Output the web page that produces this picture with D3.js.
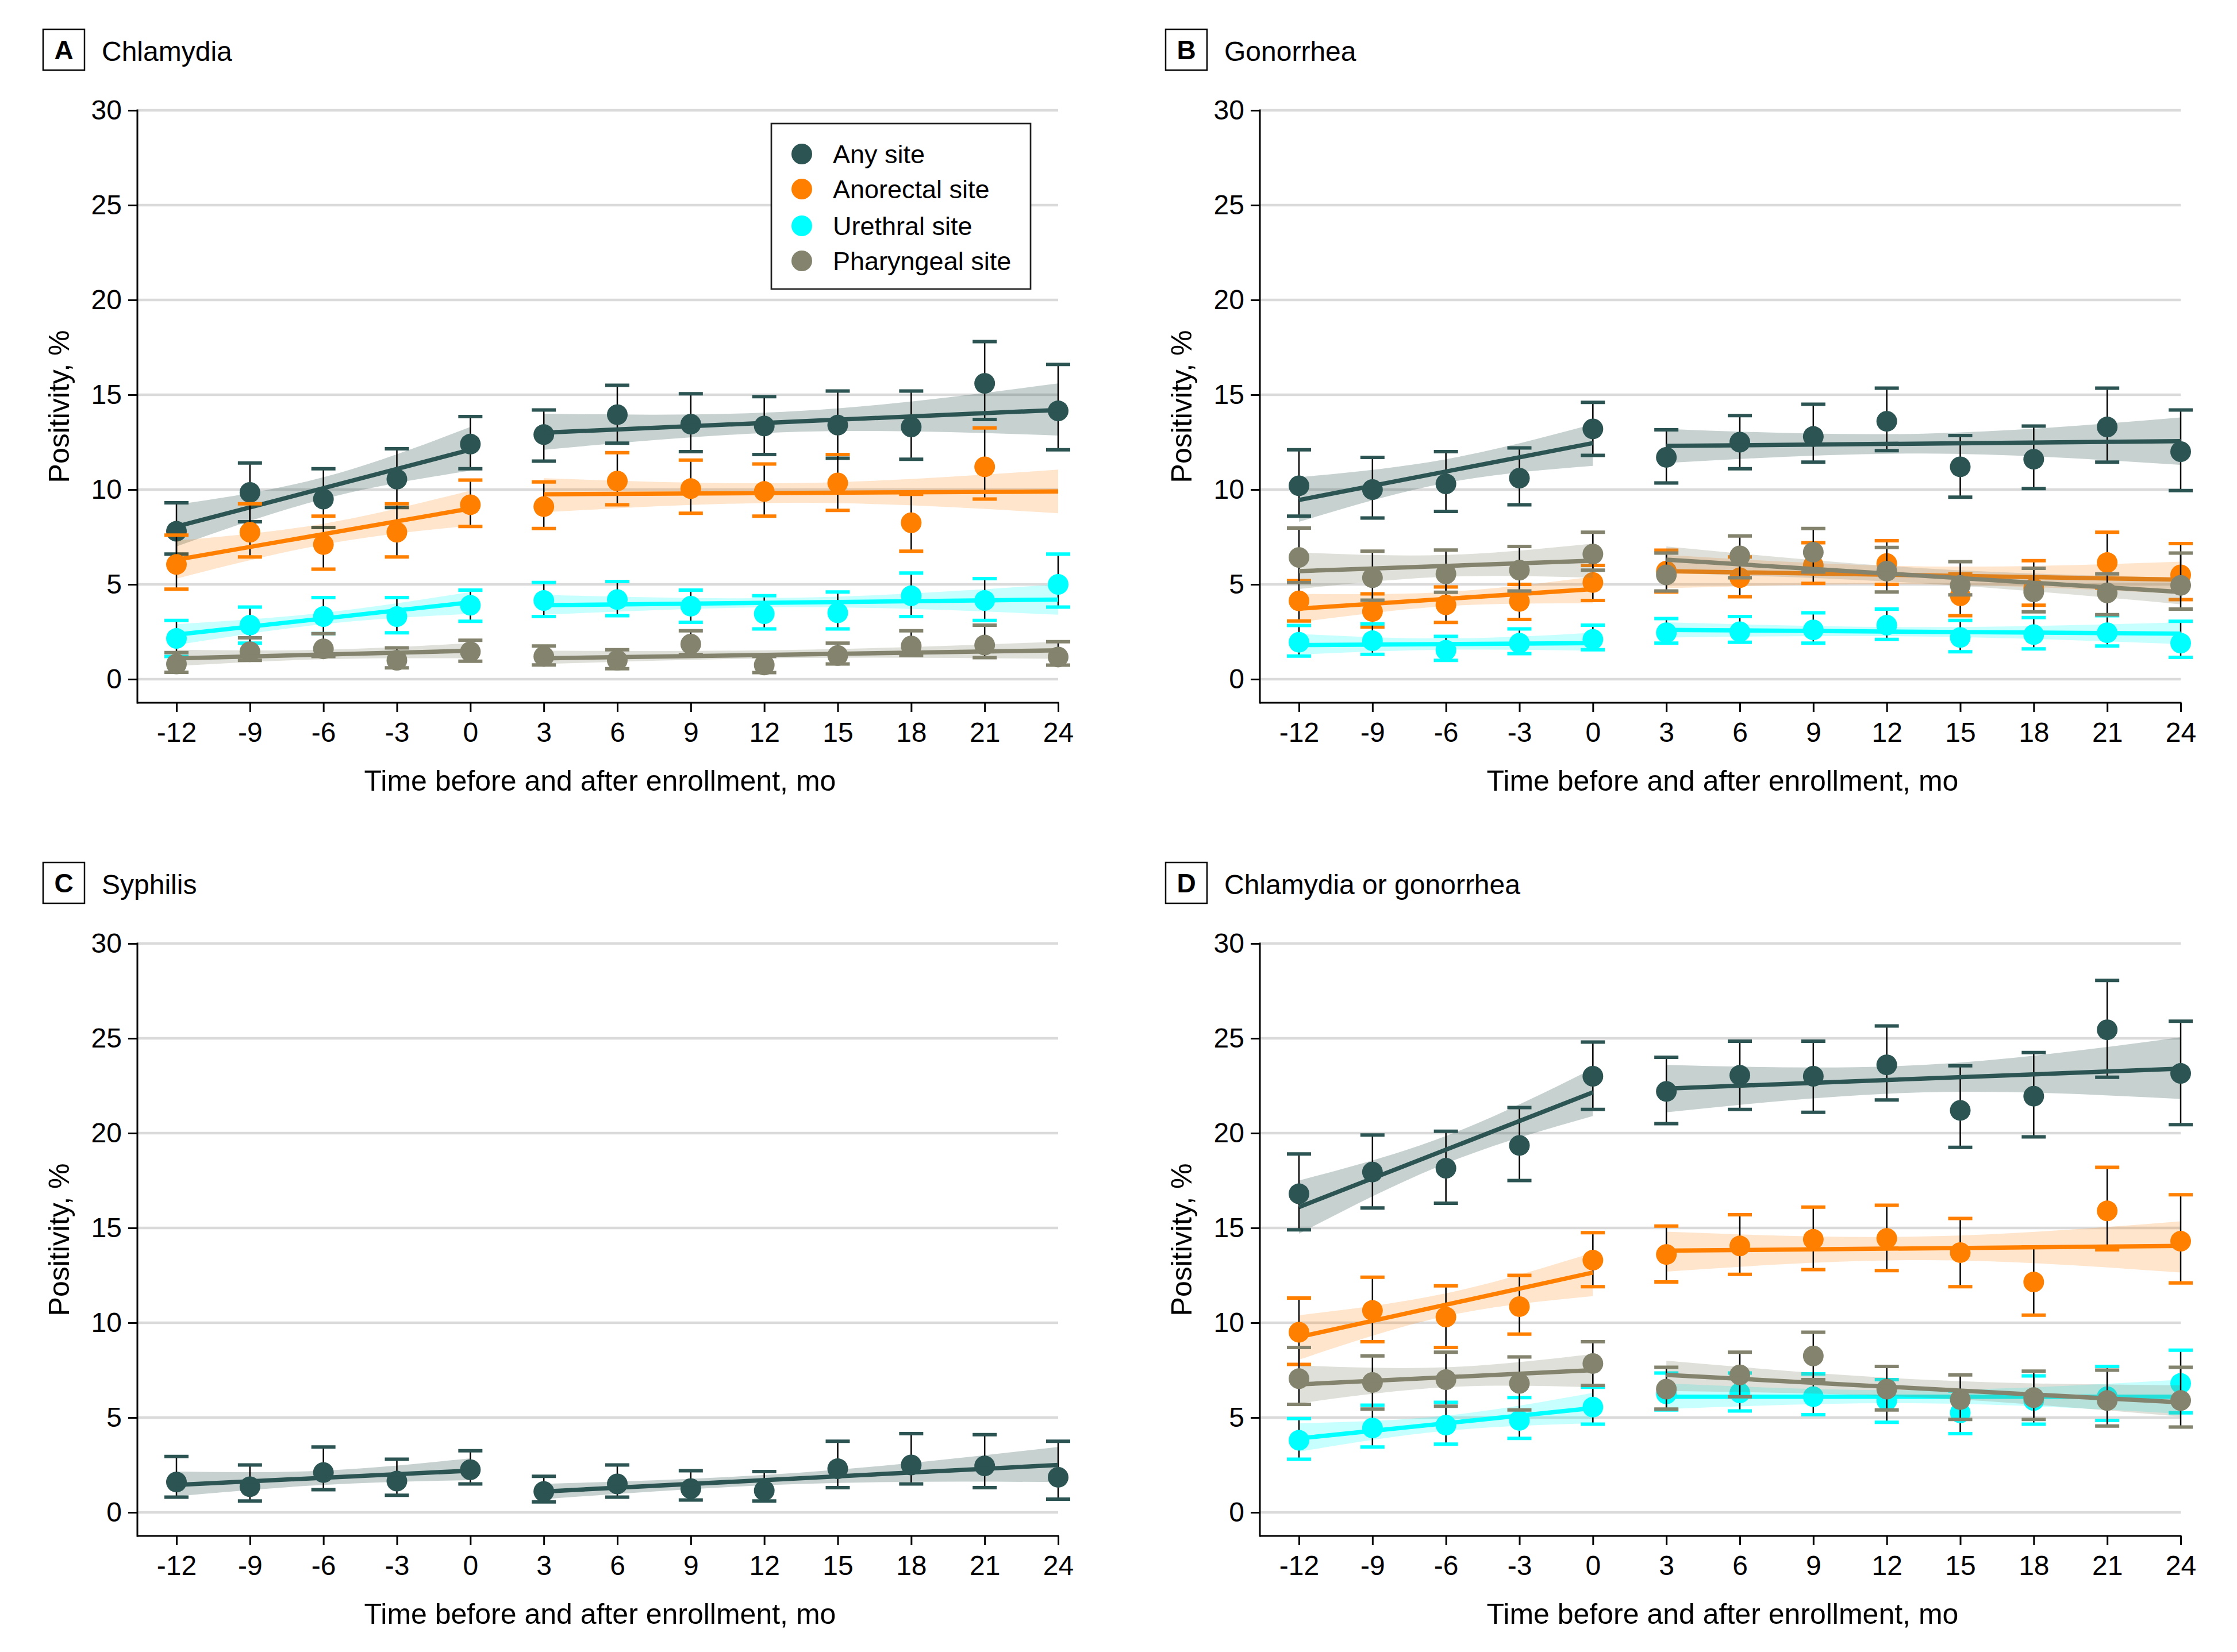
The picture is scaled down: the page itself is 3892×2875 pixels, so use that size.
<!DOCTYPE html>
<html><head><meta charset="utf-8">
<script src="https://cdn.jsdelivr.net/npm/d3@7"></script>
<style>body{margin:0;background:#fff} text{font-family:"Liberation Sans",Arial,sans-serif;}</style>
</head><body><svg id="chart" width="3892" height="2875"></svg>
<script>
// ---------- data ----------
const months = [-12,-9,-6,-3,0,3,6,9,12,15,18,21,24];
const yTicks = [0,5,10,15,20,25,30];
const fitX = [-12,0,3,24];
const bandX = [-12,-6,0,3,13.5,24];
const seriesNames = ["Any site","Anorectal site","Urethral site","Pharyngeal site"];
const panelLetters = ["A","B","C","D"];
const panelTitles = ["Chlamydia","Gonorrhea","Syphilis","Chlamydia or gonorrhea"];

// A Chlamydia
const chlAnyEst = [7.8, 9.85, 9.5, 10.55, 12.4, 12.9, 13.95, 13.45, 13.35, 13.4, 13.3, 15.6, 14.15];
const chlAnyLo  = [6.6, 8.3, 8.0, 9.05, 11.1, 11.5, 12.45, 12.0, 11.85, 11.65, 11.6, 13.7, 12.1];
const chlAnyHi  = [9.3, 11.4, 11.1, 12.15, 13.85, 14.2, 15.5, 15.05, 14.9, 15.2, 15.2, 17.8, 16.6];
const chlAnoEst = [6.05, 7.75, 7.1, 7.75, 9.2, 9.1, 10.45, 10.05, 9.9, 10.35, 8.25, 11.2, null];
const chlAnoLo  = [4.75, 6.45, 5.8, 6.45, 8.05, 7.95, 9.2, 8.75, 8.6, 8.9, 6.75, 9.5, null];
const chlAnoHi  = [7.6, 9.25, 8.6, 9.25, 10.5, 10.4, 11.95, 11.55, 11.35, 11.85, 9.75, 13.25, null];
const chlUreEst = [2.15, 2.85, 3.3, 3.3, 3.9, 4.15, 4.2, 3.85, 3.45, 3.5, 4.4, 4.15, 5.0];
const chlUreLo  = [1.2, 1.9, 2.4, 2.45, 3.05, 3.3, 3.35, 3.0, 2.65, 2.65, 3.3, 3.1, 3.8];
const chlUreHi  = [3.1, 3.8, 4.3, 4.3, 4.7, 5.1, 5.15, 4.7, 4.4, 4.6, 5.6, 5.3, 6.6];
const chlPhaEst = [0.8, 1.45, 1.6, 1.0, 1.45, 1.2, 1.0, 1.85, 0.75, 1.25, 1.75, 1.8, 1.17];
const chlPhaLo  = [0.36, 0.99, 1.2, 0.6, 0.95, 0.75, 0.55, 1.3, 0.35, 0.8, 1.25, 1.14, 0.74];
const chlPhaHi  = [1.4, 2.18, 2.4, 1.65, 2.05, 1.75, 1.55, 2.55, 1.2, 1.9, 2.55, 2.85, 1.98];
const chlAnyFit = [8.05, 12.1, 13.0, 14.2];
const chlAnyBandLo = [7.0, 9.5, 11.0, 12.1, 13.05, 12.85];
const chlAnyBandHi = [9.2, 10.65, 13.3, 14.0, 14.15, 15.6];
const chlAnoFit = [6.3, 9.0, 9.75, 9.9];
const chlAnoBandLo = [5.3, 7.1, 8.1, 8.8, 9.3, 8.75];
const chlAnoBandHi = [7.3, 8.2, 9.95, 10.6, 10.35, 11.05];
const chlUreFit = [2.35, 4.05, 3.9, 4.2];
const chlUreBandLo = [1.8, 2.9, 3.45, 3.4, 3.8, 3.4];
const chlUreBandHi = [2.9, 3.5, 4.6, 4.45, 4.3, 5.0];
const chlPhaFit = [1.1, 1.5, 1.1, 1.52];
const chlPhaBandLo = [0.7, 1.05, 1.1, 0.8, 1.12, 1.07];
const chlPhaBandHi = [1.55, 1.55, 1.9, 1.5, 1.55, 1.98];

// B Gonorrhea
const gonAnyEst = [10.2, 10.0, 10.3, 10.6, 13.2, 11.7, 12.5, 12.8, 13.6, 11.2, 11.6, 13.3, 12.0];
const gonAnyLo  = [8.6, 8.5, 8.85, 9.2, 11.8, 10.35, 11.1, 11.45, 12.05, 9.6, 10.05, 11.45, 9.95];
const gonAnyHi  = [12.1, 11.7, 12.0, 12.2, 14.6, 13.15, 13.9, 14.5, 15.35, 12.85, 13.35, 15.35, 14.2];
const gonAnoEst = [4.13, 3.57, 3.92, 4.1, 5.1, 5.7, 5.35, 6.0, 6.1, 4.4, 4.8, 6.15, 5.5];
const gonAnoLo  = [3.07, 2.75, 2.99, 3.15, 4.15, 4.6, 4.35, 5.05, 5.0, 3.35, 3.9, 4.8, 4.2];
const gonAnoHi  = [5.2, 4.5, 4.86, 5.0, 6.0, 6.8, 6.45, 7.2, 7.3, 5.55, 6.25, 7.75, 7.15];
const gonUreEst = [1.95, 2.03, 1.53, 1.9, 2.1, 2.45, 2.5, 2.6, 2.85, 2.2, 2.35, 2.45, 1.9];
const gonUreLo  = [1.22, 1.31, 0.99, 1.35, 1.55, 1.9, 1.95, 1.9, 2.1, 1.45, 1.6, 1.75, 1.15];
const gonUreHi  = [2.83, 2.92, 2.26, 2.65, 2.85, 3.2, 3.3, 3.5, 3.7, 3.1, 3.25, 3.35, 3.05];
const gonPhaEst = [6.42, 5.35, 5.55, 5.75, 6.6, 5.5, 6.5, 6.7, 5.7, 4.95, 4.6, 4.55, 4.95];
const gonPhaLo  = [5.09, 4.17, 4.58, 4.65, 5.75, 4.65, 5.35, 5.65, 4.6, 4.45, 3.55, 3.4, 3.7];
const gonPhaHi  = [7.97, 6.75, 6.81, 7.0, 7.75, 6.65, 7.55, 7.95, 6.95, 6.2, 5.85, 5.55, 6.65];
const gonAnyFit = [9.45, 12.45, 12.3, 12.55];
const gonAnyBandLo = [8.3, 10.35, 11.25, 11.4, 11.9, 11.3];
const gonAnyBandHi = [10.65, 11.6, 13.45, 13.2, 12.95, 13.8];
const gonAnoFit = [3.72, 4.75, 5.7, 5.25];
const gonAnoBandLo = [3.0, 3.85, 4.0, 4.8, 5.0, 4.5];
const gonAnoBandHi = [4.5, 4.6, 5.4, 6.55, 5.95, 6.2];
const gonUreFit = [1.8, 1.9, 2.6, 2.4];
const gonUreBandLo = [1.3, 1.55, 1.5, 2.2, 2.25, 1.85];
const gonUreBandHi = [2.39, 2.15, 2.45, 3.0, 2.75, 3.0];
const gonPhaFit = [5.7, 6.25, 6.3, 4.6];
const gonPhaBandLo = [4.76, 5.4, 5.35, 5.6, 5.05, 3.95];
const gonPhaBandHi = [6.68, 6.55, 7.15, 7.0, 5.85, 5.35];

// C Syphilis
const syAnyEst = [1.6, 1.35, 2.1, 1.65, 2.25, 1.1, 1.5, 1.25, 1.15, 2.3, 2.5, 2.45, 1.85];
const syAnyLo  = [0.8, 0.6, 1.2, 0.9, 1.5, 0.55, 0.8, 0.65, 0.6, 1.3, 1.5, 1.3, 0.7];
const syAnyHi  = [2.95, 2.5, 3.45, 2.8, 3.25, 1.9, 2.5, 2.2, 2.15, 3.75, 4.15, 4.1, 3.75];
const syAnyFit = [1.45, 2.2, 1.1, 2.5];
const syAnyBandLo = [0.85, 1.45, 1.7, 0.7, 1.5, 1.6];
const syAnyBandHi = [2.15, 2.2, 2.85, 1.5, 2.1, 3.45];

// D Chlamydia or gonorrhea
const cgAnyEst = [16.8, 17.95, 18.15, 19.35, 23.0, 22.2, 23.05, 23.0, 23.6, 21.2, 21.95, 25.45, 23.15];
const cgAnyLo  = [14.9, 16.05, 16.3, 17.5, 21.25, 20.5, 21.25, 21.1, 21.75, 19.25, 19.8, 22.95, 20.45];
const cgAnyHi  = [18.9, 19.9, 20.1, 21.35, 24.8, 24.0, 24.85, 24.85, 25.65, 23.55, 24.25, 28.05, 25.9];
const cgAnoEst = [9.5, 10.65, 10.3, 10.85, 13.3, 13.6, 14.05, 14.4, 14.45, 13.7, 12.15, 15.9, 14.3];
const cgAnoLo  = [7.8, 9.0, 8.7, 9.4, 11.9, 12.15, 12.55, 12.8, 12.75, 11.9, 10.4, 13.85, 12.1];
const cgAnoHi  = [11.3, 12.4, 11.95, 12.5, 14.75, 15.1, 15.7, 16.1, 16.2, 15.5, 14.0, 18.2, 16.75];
const cgUreEst = [3.8, 4.45, 4.6, 4.85, 5.55, 6.25, 6.3, 6.1, 5.9, 5.25, 5.9, 6.1, 6.8];
const cgUreLo  = [2.8, 3.45, 3.6, 3.9, 4.65, 5.4, 5.35, 5.15, 4.75, 4.15, 4.65, 4.85, 5.25];
const cgUreHi  = [4.95, 5.65, 5.8, 6.05, 6.6, 7.35, 7.35, 7.3, 7.0, 6.4, 7.2, 7.7, 8.55];
const cgPhaEst = [7.05, 6.85, 7.0, 6.8, 7.85, 6.5, 7.25, 8.25, 6.5, 5.95, 6.05, 5.9, 5.9];
const cgPhaLo  = [5.7, 5.45, 5.6, 5.4, 6.7, 5.45, 6.1, 7.0, 5.4, 4.9, 4.9, 4.55, 4.5];
const cgPhaHi  = [8.7, 8.25, 8.45, 8.2, 9.0, 7.65, 8.45, 9.5, 7.7, 7.25, 7.45, 7.5, 7.65];
const cgAnyFit = [16.1, 22.15, 22.35, 23.4];
const cgAnyBandLo = [14.7, 18.4, 20.9, 21.1, 22.15, 21.8];
const cgAnyBandHi = [17.5, 19.85, 23.4, 23.6, 23.6, 25.05];
const cgAnoFit = [9.25, 12.65, 13.8, 14.05];
const cgAnoBandLo = [8.05, 10.35, 11.4, 12.7, 13.3, 12.65];
const cgAnoBandHi = [10.4, 11.55, 13.7, 14.8, 14.55, 15.35];
const cgUreFit = [3.9, 5.5, 6.1, 6.1];
const cgUreBandLo = [3.2, 4.3, 4.7, 5.45, 5.75, 5.2];
const cgUreBandHi = [4.7, 5.1, 6.3, 6.8, 6.45, 7.0];
const cgPhaFit = [6.75, 7.5, 7.25, 5.8];
const cgPhaBandLo = [5.75, 6.6, 6.6, 6.4, 6.05, 5.05];
const cgPhaBandHi = [7.75, 7.65, 8.35, 8.0, 7.0, 6.7];

// ---------- style ----------
const seriesColors = ["#2b5453","#ff7f00","#00ffff","#84836d"];
const bandOpacity = [0.27,0.2,0.22,0.25];
const FONT = '"Liberation Sans", Arial, sans-serif';

// detect a condensed face (closer to the reference typeface)
function hasFont(name){
  const c = document.createElement('canvas').getContext('2d');
  const t = 'Pharyngeal site 0123456789';
  c.font = '50px monospace'; const a = c.measureText(t).width;
  c.font = `50px "${name}", monospace`; const b = c.measureText(t).width;
  return Math.abs(a-b) > 1;
}
const NARROW = hasFont('Liberation Sans Narrow');
const CF = NARROW ? '"Liberation Sans Narrow", "Liberation Sans", Arial, sans-serif' : FONT;
const SZ = NARROW ? {tick:52, title:56, legend:53, xtitle:60} : {tick:48, title:48, legend:45, xtitle:50};

const S = (k, est, lo, hi, fit, bLo, bHi) => ({k, est, lo, hi, fit, bLo, bHi});
const panels = [
  {i:0, dx:0, dy:0, legend:true, series:[
    S(0, chlAnyEst, chlAnyLo, chlAnyHi, chlAnyFit, chlAnyBandLo, chlAnyBandHi),
    S(1, chlAnoEst, chlAnoLo, chlAnoHi, chlAnoFit, chlAnoBandLo, chlAnoBandHi),
    S(2, chlUreEst, chlUreLo, chlUreHi, chlUreFit, chlUreBandLo, chlUreBandHi),
    S(3, chlPhaEst, chlPhaLo, chlPhaHi, chlPhaFit, chlPhaBandLo, chlPhaBandHi)]},
  {i:1, dx:1953, dy:0, legend:false, series:[
    S(0, gonAnyEst, gonAnyLo, gonAnyHi, gonAnyFit, gonAnyBandLo, gonAnyBandHi),
    S(1, gonAnoEst, gonAnoLo, gonAnoHi, gonAnoFit, gonAnoBandLo, gonAnoBandHi),
    S(2, gonUreEst, gonUreLo, gonUreHi, gonUreFit, gonUreBandLo, gonUreBandHi),
    S(3, gonPhaEst, gonPhaLo, gonPhaHi, gonPhaFit, gonPhaBandLo, gonPhaBandHi)]},
  {i:2, dx:0, dy:1450, legend:false, series:[
    S(0, syAnyEst, syAnyLo, syAnyHi, syAnyFit, syAnyBandLo, syAnyBandHi)]},
  {i:3, dx:1953, dy:1450, legend:false, series:[
    S(0, cgAnyEst, cgAnyLo, cgAnyHi, cgAnyFit, cgAnyBandLo, cgAnyBandHi),
    S(1, cgAnoEst, cgAnoLo, cgAnoHi, cgAnoFit, cgAnoBandLo, cgAnoBandHi),
    S(2, cgUreEst, cgUreLo, cgUreHi, cgUreFit, cgUreBandLo, cgUreBandHi),
    S(3, cgPhaEst, cgPhaLo, cgPhaHi, cgPhaFit, cgPhaBandLo, cgPhaBandHi)]}
];

const svg = d3.select('#chart');
svg.append('rect').attr('width',3892).attr('height',2875).attr('fill','#fff');

const AX = 239, AXB = 1223;
const x = d3.scaleLinear().domain([-12,24]).range([307,1841]);
const y = d3.scaleLinear().domain([0,30]).range([1182,192]);

panels.forEach(p => {
  const g = svg.append('g').attr('transform',`translate(${p.dx},${p.dy})`);

  // panel label + title
  g.append('rect').attr('x',75).attr('y',51).attr('width',72).attr('height',71)
    .attr('fill','none').attr('stroke','#000').attr('stroke-width',2.5);
  g.append('text').attr('x',111).attr('y',103).attr('text-anchor','middle')
    .attr('font-size',46).attr('font-weight','bold').attr('font-family',FONT).text(panelLetters[p.i]);
  g.append('text').attr('x',177).attr('y',106).attr('font-size',SZ.title).attr('font-family',CF)
    .text(panelTitles[p.i]);

  // gridlines
  g.append('g').selectAll('line').data(yTicks).join('line')
    .attr('x1',AX).attr('x2',x(24)).attr('y1',d=>y(d)).attr('y2',d=>y(d))
    .attr('stroke','#dadada').attr('stroke-width',4.5);

  // y axis
  const ya = g.append('g').attr('transform',`translate(${AX},0)`)
    .call(d3.axisLeft(y).tickValues(yTicks).tickSize(16).tickPadding(11).tickFormat(d=>String(d)));
  ya.select('.domain').remove();
  ya.attr('font-size',SZ.tick).attr('font-family',CF);
  ya.selectAll('line').attr('stroke','#000').attr('stroke-width',3);
  ya.selectAll('text').attr('fill','#000');

  // x axis
  const xa = g.append('g').attr('transform',`translate(0,${AXB})`)
    .call(d3.axisBottom(x).tickValues(months).tickSize(16).tickPadding(18).tickFormat(d=>String(d)));
  xa.select('.domain').remove();
  xa.attr('font-size',SZ.tick).attr('font-family',CF);
  xa.selectAll('line').attr('stroke','#000').attr('stroke-width',3);
  xa.selectAll('text').attr('fill','#000');

  g.append('line').attr('x1',AX).attr('x2',AX).attr('y1',y(30)-1.5).attr('y2',AXB+1.5)
    .attr('stroke','#000').attr('stroke-width',3);
  g.append('line').attr('x1',AX).attr('x2',x(24)+1.5).attr('y1',AXB).attr('y2',AXB)
    .attr('stroke','#000').attr('stroke-width',3);

  // axis titles
  g.append('text').attr('x',1044).attr('y',1376).attr('text-anchor','middle')
    .attr('font-size',SZ.xtitle).attr('font-family',CF).text('Time before and after enrollment, mo');
  g.append('text').attr('transform',`translate(120,${(y(30)+AXB)/2}) rotate(-90)`)
    .attr('text-anchor','middle').attr('font-size',50).attr('font-family',FONT).text('Positivity, %');

  // series
  p.series.forEach(s => {
    const col = seriesColors[s.k];
    const sg = g.append('g');
    const area = d3.area().x(d=>x(d.x)).y0(d=>y(d.lo)).y1(d=>y(d.hi)).curve(d3.curveNatural);
    [[0,1,2],[3,4,5]].forEach(idx => {
      const pts = idx.map(i => ({x:bandX[i], lo:s.bLo[i], hi:s.bHi[i]}));
      sg.append('path').datum(pts).attr('d',area).attr('fill',col).attr('fill-opacity',bandOpacity[s.k]);
    });
    const pts = months.map((m,i)=>({m, e:s.est[i], lo:s.lo[i], hi:s.hi[i]})).filter(d=>d.e!=null);
    sg.append('g').selectAll('line').data(pts).join('line')
      .attr('x1',d=>x(d.m)).attr('x2',d=>x(d.m)).attr('y1',d=>y(d.lo)).attr('y2',d=>y(d.hi))
      .attr('stroke','#000').attr('stroke-width',2.5);
    ['lo','hi'].forEach(key => {
      sg.append('g').selectAll('line').data(pts).join('line')
        .attr('x1',d=>x(d.m)-21).attr('x2',d=>x(d.m)+21).attr('y1',d=>y(d[key])).attr('y2',d=>y(d[key]))
        .attr('stroke',col).attr('stroke-width',6);
    });
    sg.append('g').selectAll('circle').data(pts).join('circle')
      .attr('cx',d=>x(d.m)).attr('cy',d=>y(d.e)).attr('r',18).attr('fill',col);
    const line = d3.line().x(d=>x(d.x)).y(d=>y(d.v));
    [[0,1],[2,3]].forEach(idx => {
      sg.append('path').datum(idx.map(i=>({x:fitX[i], v:s.fit[i]}))).attr('d',line)
        .attr('fill','none').attr('stroke',col).attr('stroke-width',7.5);
    });
  });

  // legend
  if (p.legend) {
    const lg = g.append('g');
    lg.append('rect').attr('x',1342).attr('y',215).attr('width',451).attr('height',288)
      .attr('fill','#fff').attr('stroke','#222').attr('stroke-width',2.7);
    const rowsY = [268,329,393,454];
    seriesNames.forEach((nm,i) => {
      lg.append('circle').attr('cx',1395).attr('cy',rowsY[i]).attr('r',18).attr('fill',seriesColors[i]);
      lg.append('text').attr('x',1449).attr('y',rowsY[i]).attr('dy','0.35em')
        .attr('font-size',SZ.legend).attr('font-family',CF).text(nm);
    });
  }
});
</script></body></html>
